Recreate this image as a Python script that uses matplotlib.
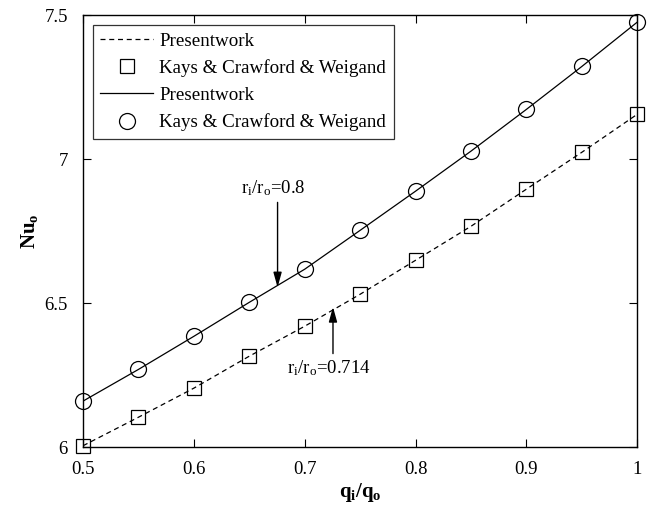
import matplotlib
matplotlib.use("Agg")
import matplotlib.pyplot as plt
from matplotlib.lines import Line2D

plt.rcParams['font.family'] = ['Liberation Serif', 'DejaVu Serif']
plt.rcParams['mathtext.fontset'] = 'custom'
plt.rcParams['mathtext.rm'] = 'Liberation Serif'
plt.rcParams['mathtext.it'] = 'Liberation Serif:italic'
plt.rcParams['mathtext.bf'] = 'Liberation Serif:bold'

x = [0.5, 0.55, 0.6, 0.65, 0.7, 0.75, 0.8, 0.85, 0.9, 0.95, 1.0]
nu_08 = [6.16, 6.27, 6.385, 6.503, 6.618, 6.753, 6.889, 7.028, 7.173, 7.322, 7.476]
nu_0714 = [6.005, 6.104, 6.205, 6.316, 6.42, 6.531, 6.649, 6.767, 6.896, 7.024, 7.156]

xticks = [0.5, 0.6, 0.7, 0.8, 0.9, 1.0]
xticklabels = ['0.5', '0.6', '0.7', '0.8', '0.9', '1']
yticks = [6.0, 6.5, 7.0, 7.5]
yticklabels = ['6', '6.5', '7', '7.5']

fig = plt.figure(figsize=(6.59, 5.07), dpi=100)
ax = fig.add_axes([0.126, 0.118, 0.841, 0.852])

ax.plot(x, nu_0714, color='black', lw=0.9, ls=(0, (4, 3)))
ax.plot(x, nu_0714, ls='none', marker='s', ms=9.5, mfc='none', mec='black', mew=0.9, clip_on=False, zorder=5)
ax.plot(x, nu_08, color='black', lw=0.9)
ax.plot(x, nu_08, ls='none', marker='o', ms=11.5, mfc='none', mec='black', mew=0.9, clip_on=False, zorder=5)

ax.set_xlim(0.5, 1.0)
ax.set_ylim(6.0, 7.5)
ax.set_xticks(xticks)
ax.set_xticklabels(xticklabels)
ax.set_yticks(yticks)
ax.set_yticklabels(yticklabels)
ax.tick_params(direction='in', top=True, right=True, labelsize=13.5, length=6, width=0.8)
ax.tick_params(axis='x', pad=10)
ax.tick_params(axis='y', pad=11)
for s in ax.spines.values():
    s.set_linewidth(1.0)

ax.set_xlabel(r'$\mathbf{q_i/q_o}$', fontsize=15, labelpad=2)
ax.set_ylabel(r'$\mathbf{Nu_o}$', fontsize=15, labelpad=3)

handles = [
    Line2D([], [], color='black', lw=0.9, ls=(0, (4, 3))),
    Line2D([], [], ls='none', marker='s', ms=9.5, mfc='none', mec='black', mew=0.9),
    Line2D([], [], color='black', lw=0.9),
    Line2D([], [], ls='none', marker='o', ms=11.5, mfc='none', mec='black', mew=0.9),
]
labels = ['Presentwork', 'Kays & Crawford & Weigand', 'Presentwork', 'Kays & Crawford & Weigand']
leg = ax.legend(handles, labels, loc='upper left', fontsize=13.7, frameon=True, fancybox=False,
                edgecolor='black', handlelength=2.8, borderaxespad=0.5, labelspacing=0.5,
                handletextpad=0.3, borderpad=0.4)
leg.get_frame().set_linewidth(0.9)

arrow = dict(arrowstyle='-|>,head_length=0.9,head_width=0.25', color='black', lw=1.0,
             shrinkA=0, shrinkB=0)
ax.annotate('', xy=(0.6755, 6.555), xytext=(0.6755, 6.85), arrowprops=arrow)
ax.text(0.6715, 6.865, r'$\mathrm{r_i/r_o}$=0.8', ha='center', va='bottom', fontsize=13.5)
ax.annotate('', xy=(0.7255, 6.487), xytext=(0.7255, 6.325), arrowprops=arrow)
ax.text(0.7215, 6.31, r'$\mathrm{r_i/r_o}$=0.714', ha='center', va='top', fontsize=13.5)

fig.savefig('out.png', dpi=100)
